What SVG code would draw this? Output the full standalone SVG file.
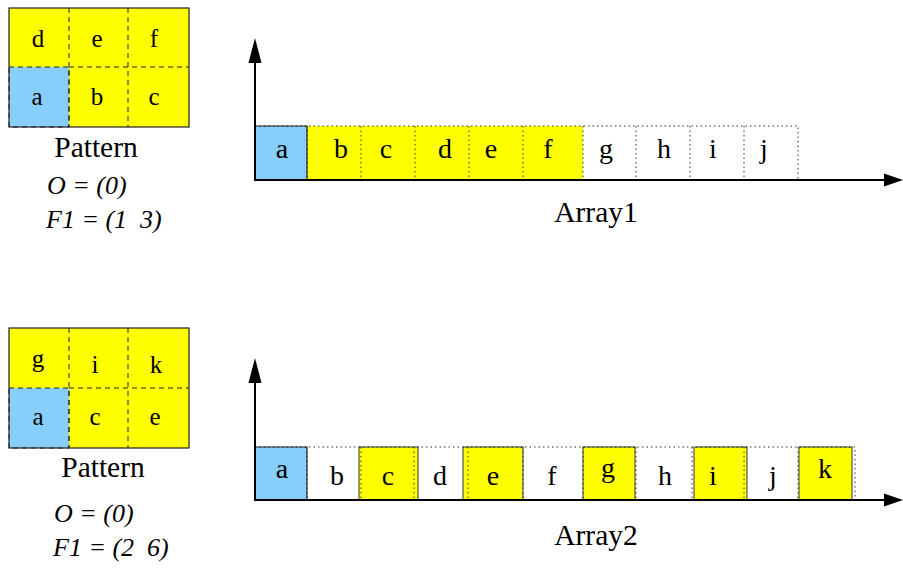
<svg xmlns="http://www.w3.org/2000/svg" width="903" height="569" viewBox="0 0 903 569">
<style>
.bg{fill:#fff}
.yel{fill:#ffff00}
.blu{fill:#87cefa}
.out{fill:none;stroke:#222;stroke-width:1.2}
.dash{fill:none;stroke:#222;stroke-width:1;stroke-dasharray:5 4}
.dot{fill:none;stroke:#333;stroke-width:1;stroke-dasharray:1.5 3}
.box{stroke:#333;stroke-width:1}
.axis{stroke:#000;stroke-width:2;fill:none}
.head{fill:#000}
text{font-family:"Liberation Serif","Times New Roman",serif;fill:#000;text-anchor:middle}
.pl{font-size:25px}
.al{font-size:28px}
.cap{font-size:29.5px}
.it{font-size:26px;font-style:italic;text-anchor:start;white-space:pre}
</style>
<rect class="bg" x="0" y="0" width="903" height="569"/>

<g id="pattern1">
<rect class="yel" x="9" y="8" width="180" height="119"/>
<rect class="blu" x="9" y="67" width="60" height="60"/>
<rect class="dash" x="9" y="67" width="60" height="60"/>
<rect class="out" x="9" y="8" width="180" height="119"/>
<line class="dash" x1="69" y1="8" x2="69" y2="127"/>
<line class="dash" x1="128" y1="8" x2="128" y2="127"/>
<line class="dash" x1="69" y1="67" x2="189" y2="67"/>
<text class="pl" x="38" y="47">d</text>
<text class="pl" x="97" y="47">e</text>
<text class="pl" x="154" y="47">f</text>
<text class="pl" x="37" y="105">a</text>
<text class="pl" x="97" y="105">b</text>
<text class="pl" x="154" y="105">c</text>
<text class="cap" x="96" y="157">Pattern</text>
<text class="it" x="47" y="194" xml:space="preserve">O = (0)</text>
<text class="it" x="46" y="228" xml:space="preserve">F1 = (1  3)</text>
</g>

<g id="pattern2">
<rect class="yel" x="9" y="328" width="180" height="120"/>
<rect class="blu" x="9" y="388" width="60" height="60"/>
<rect class="dash" x="9" y="388" width="60" height="60"/>
<rect class="out" x="9" y="328" width="180" height="120"/>
<line class="dash" x1="69" y1="328" x2="69" y2="448"/>
<line class="dash" x1="128" y1="328" x2="128" y2="448"/>
<line class="dash" x1="69" y1="388" x2="189" y2="388"/>
<text class="pl" x="38" y="367">g</text>
<text class="pl" x="95" y="373">i</text>
<text class="pl" x="156" y="373">k</text>
<text class="pl" x="38" y="425">a</text>
<text class="pl" x="95" y="425">c</text>
<text class="pl" x="155" y="425">e</text>
<text class="cap" x="103" y="477">Pattern</text>
<text class="it" x="54" y="522" xml:space="preserve">O = (0)</text>
<text class="it" x="53" y="556" xml:space="preserve">F1 = (2  6)</text>
</g>

<g id="array1">
<rect class="blu" x="255" y="126" width="52" height="54"/>
<rect class="yel" x="307" y="126" width="276" height="54"/>
<path class="dot" d="M255 126H798V180M307 126V180M361 126V180M415 126V180M469 126V180M523 126V180M583 126V180M636 126V180M690 126V180M744 126V180"/>
<path class="out" d="M255 126H307V180"/>
<text class="al" x="282" y="158">a</text>
<text class="al" x="341" y="158">b</text>
<text class="al" x="386" y="158">c</text>
<text class="al" x="445" y="158">d</text>
<text class="al" x="491" y="158">e</text>
<text class="al" x="548" y="158">f</text>
<text class="al" x="606" y="158">g</text>
<text class="al" x="664" y="158">h</text>
<text class="al" x="713" y="158">i</text>
<text class="al" x="764" y="158">j</text>
<text class="cap" x="596" y="222">Array1</text>
</g>

<g id="array2">
<rect class="blu" x="255" y="447" width="52" height="53"/>
<rect class="yel box" x="359" y="447" width="59" height="53"/>
<rect class="yel box" x="463" y="447" width="60" height="53"/>
<rect class="yel box" x="583" y="447" width="52" height="53"/>
<rect class="yel box" x="694" y="447" width="53" height="53"/>
<rect class="yel box" x="799" y="447" width="53" height="53"/>
<path class="dot" d="M255 447H855V500M307 447V500M361 447V500M414 447V500M468 447V500M523 447V500M583 447V500M636 447V500M692 447V500M744 447V500M798 447V500"/>
<path class="out" d="M255 447H307V500"/>
<text class="al" x="282" y="478">a</text>
<text class="al" x="337" y="485">b</text>
<text class="al" x="388" y="485">c</text>
<text class="al" x="440" y="485">d</text>
<text class="al" x="493" y="485">e</text>
<text class="al" x="552" y="485">f</text>
<text class="al" x="608" y="477">g</text>
<text class="al" x="665" y="485">h</text>
<text class="al" x="713" y="485">i</text>
<text class="al" x="773" y="485">j</text>
<text class="al" x="825" y="478">k</text>
<text class="cap" x="596" y="545">Array2</text>
</g>

<g id="connectors">
<line class="axis" x1="255" y1="60" x2="255" y2="181"/>
<line class="axis" x1="254" y1="180" x2="886" y2="180"/>
<polygon class="head" points="255,38 248.5,63 261.5,63"/>
<polygon class="head" points="903,180 884,173.5 884,186.5"/>
<line class="axis" x1="255" y1="380" x2="255" y2="501"/>
<line class="axis" x1="254" y1="500" x2="886" y2="500"/>
<polygon class="head" points="255,358 248.5,383 261.5,383"/>
<polygon class="head" points="903,500 884,493.5 884,506.5"/>
</g>
</svg>
